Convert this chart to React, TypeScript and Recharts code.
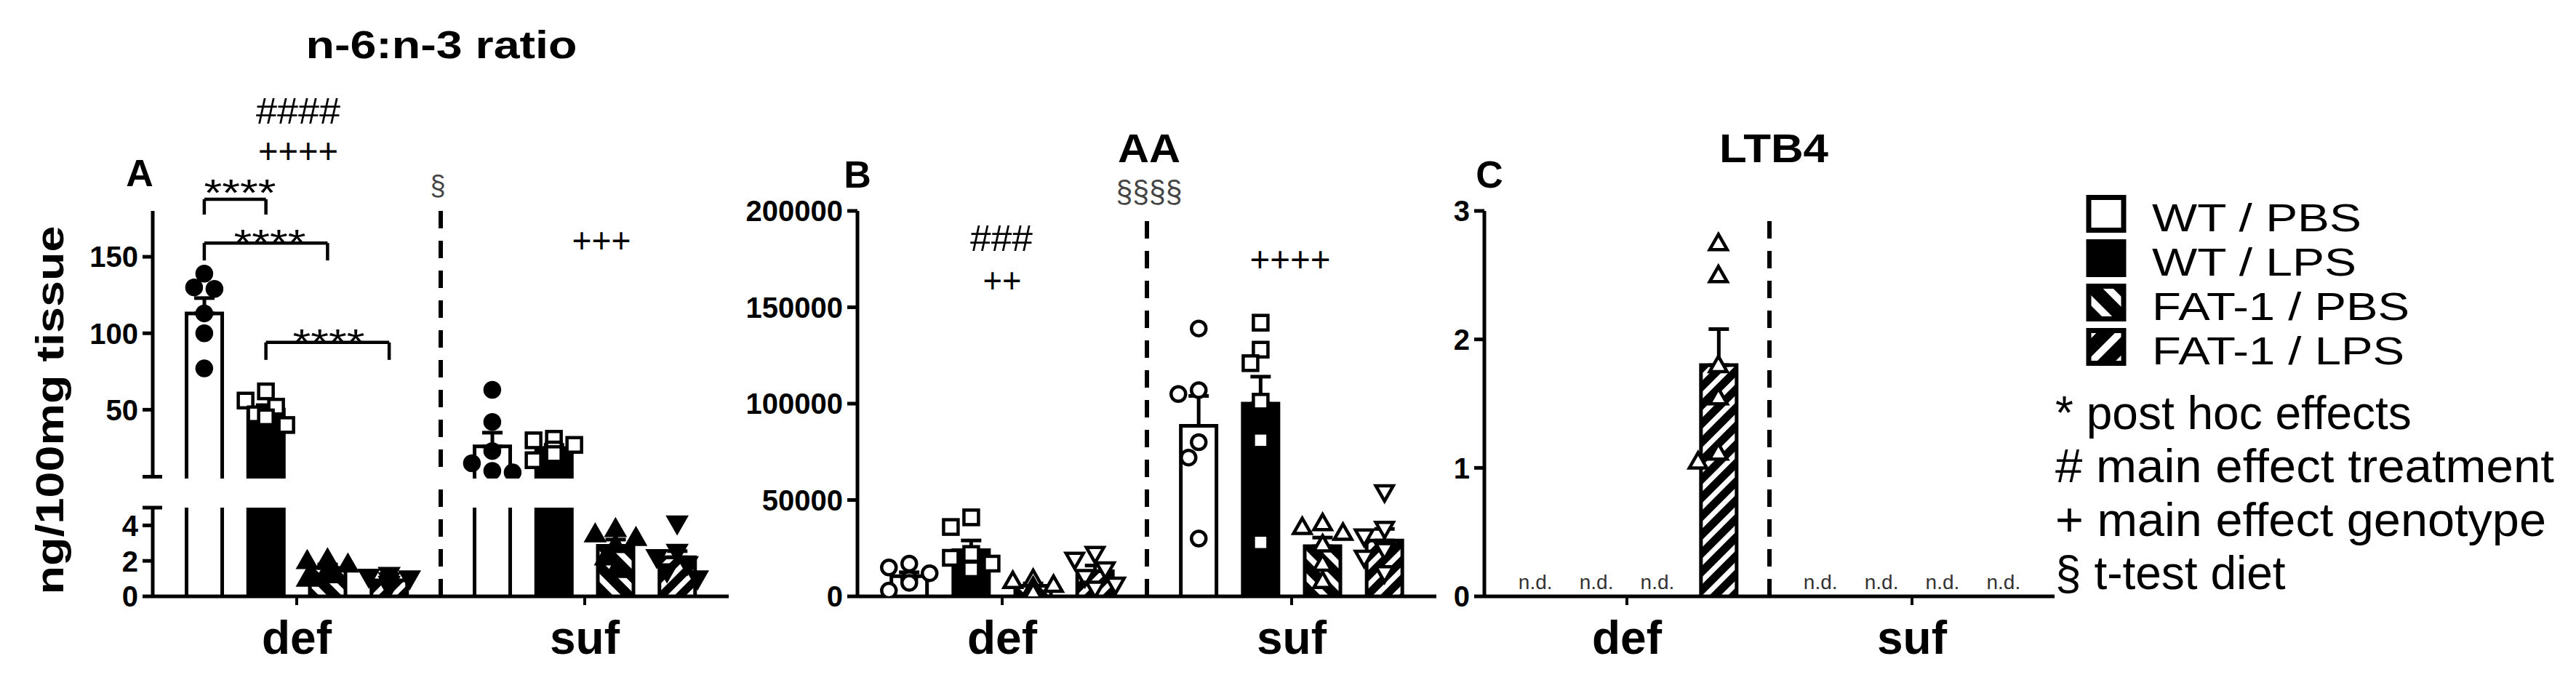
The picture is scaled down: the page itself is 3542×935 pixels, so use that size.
import React from 'react';
import { Bar, ComposedChart, ErrorBar, ReferenceLine, Scatter, XAxis, YAxis } from 'recharts';

const FONT = '"Liberation Sans", Arial, Helvetica, sans-serif';

// categories
const DIETS = ['def', 'suf'];
const GROUPS = ['WT / PBS', 'WT / LPS', 'FAT-1 / PBS', 'FAT-1 / LPS'];

// order of every list below: def WT/PBS, WT/LPS, FAT-1/PBS, FAT-1/LPS, then the same for suf
const RATIO_MEAN = [113, 50, 1.6, 0.9, 26, 25, 2.85, 2.2];
const RATIO_SEM = [10, 3, 0.2, 0.1, 9, 2, 0.35, 0.35];
const RATIO_POINTS = [
  [139, 130, 129, 113, 100, 77],
  [62, 56, 52, 47, 45, 40],
  [2.1, 2.0, 1.8, 1.5, 1.2, 1.0],
  [1.2, 1.1, 1.0, 0.9, 0.7, 0.5],
  [63, 42, 23, 15, 10, 9],
  [31, 30, 27, 24, 21, 17],
  [3.8, 3.5, 3.3, 2.9, 2.2, 1.5],
  [4.1, 2.5, 2.2, 1.8, 1.4, 1.0],
];

const AA_MEAN = [10500, 24000, 5500, 13000, 88500, 100000, 26000, 29000];
const AA_SEM = [2000, 5000, 1200, 3000, 15500, 14000, 4500, 6000];
const AA_POINTS = [
  [17000, 15000, 12000, 9000, 7000, 3000],
  [41000, 36000, 22000, 20000, 17000, 14000],
  [9000, 8000, 6000, 5000, 3000, 2000],
  [22000, 19000, 14000, 10000, 6000, 4000],
  [139000, 107000, 105000, 80000, 72000, 30000],
  [142000, 128000, 121000, 101000, 81000, 28000],
  [38000, 36000, 33000, 27000, 17000, 8000],
  [54000, 35000, 31000, 24000, 20000, 12000],
];

// null = n.d.
const LTB4_MEAN = [null, null, null, 1.8, null, null, null, null];
const LTB4_SEM = [0, 0, 0, 0.28, 0, 0, 0, 0];
const LTB4_POINTS = [[], [], [], [2.75, 2.5, 1.8, 1.55, 1.12, 1.05], [], [], [], []];

// post hoc brackets on the ratio panel: bar index from/to, height of the bracket, leg drop
const RATIO_BRACKETS = [
  { from: 0, to: 1, y: 187.6, drop: 10, stars: '****' },
  { from: 0, to: 2, y: 159, drop: 11.4, stars: '****' },
  { from: 1, to: 3, y: 94, drop: 11.4, stars: '****' },
];

const LEGEND_LEN = [288, 281, 354, 347];

// layout
const SLOT = 0.214; // distance between neighbouring bars, in diet units
const PLOT_TOP = 290;
const BASE = 820;
const BREAK_HI = 658;
const BREAK_LO = 698;

const barX = (i: number) => Math.floor(i / 4) + 0.5 + ((i % 4) - 1.5) * SLOT;

const FILLS = ['#fff', '#000', 'url(#hatchPbs)', 'url(#hatchLps)'];

function barRows(mean: (number | null)[], sem: number[]) {
  return mean
    .map((m, i) => ({ x: barX(i), mean: m, err: [0, sem[i]], group: i % 4 }))
    .filter((r) => r.mean != null);
}

// simple beeswarm so the dots of one bar do not sit on top of each other
function swarm(values: number[], toPx: (v: number) => number, d = 22, step = 14) {
  const placed: { dx: number; py: number }[] = [];
  return values.map((v) => {
    const py = toPx(v);
    for (const k of [0, -1, 1, -2, 2]) {
      const dx = k * step;
      if (placed.every((p) => Math.hypot(p.dx - dx, p.py - py) >= d)) {
        placed.push({ dx, py });
        return dx;
      }
    }
    placed.push({ dx: 0, py });
    return 0;
  });
}

function pointSets(points: number[][], toPx: (v: number) => number, unitPx: number) {
  return GROUPS.map((_, g) =>
    DIETS.flatMap((__, d) => {
      const i = d * 4 + g;
      const offs = swarm(points[i], toPx);
      return points[i].map((v, k) => ({ x: barX(i) + offs[k] / unitPx, y: v }));
    })
  );
}

const ratioPx = (v: number) =>
  v >= 5 ? BREAK_HI - ((v - 5) * (BREAK_HI - PLOT_TOP)) / 175 : BASE - (v * (BASE - BREAK_LO)) / 5;
const RATIO_SETS = pointSets(RATIO_POINTS, ratioPx, 396);
const RATIO_HI = RATIO_SETS.map((s) => s.filter((p) => p.y >= 5));
const RATIO_LO = RATIO_SETS.map((s) => s.filter((p) => p.y < 5));
const AA_SETS = pointSets(AA_POINTS, (v) => BASE - (v * (BASE - PLOT_TOP)) / 200000, 398);
const LTB4_SETS = pointSets(LTB4_POINTS, (v) => BASE - (v * (BASE - PLOT_TOP)) / 3, 392);
const LTB4_ND = LTB4_MEAN.map((m, i) => ({ x: barX(i), y: 0, nd: m == null })).filter((r) => r.nd);

type MarkKind = 'circle' | 'square' | 'up' | 'down';

const mark = (kind: MarkKind, fill: string) => (p: any) => {
  const { cx, cy } = p;
  if (cx == null || cy == null) return <g />;
  const sw = 4.5;
  if (kind === 'circle') return <circle cx={cx} cy={cy} r={10} fill={fill} stroke="#000" strokeWidth={sw} />;
  if (kind === 'square')
    return <rect x={cx - 10} y={cy - 10} width={20} height={20} fill={fill} stroke="#000" strokeWidth={sw} />;
  const s = kind === 'up' ? 1 : -1;
  return (
    <polygon
      points={`${cx},${cy - 12 * s} ${cx + 12},${cy + 9 * s} ${cx - 12},${cy + 9 * s}`}
      fill={fill}
      stroke="#000"
      strokeWidth={sw}
    />
  );
};

const RATIO_MARKS = [mark('circle', '#000'), mark('square', '#fff'), mark('up', '#000'), mark('down', '#000')];
const OPEN_MARKS = [mark('circle', '#fff'), mark('square', '#fff'), mark('up', '#fff'), mark('down', '#fff')];
const LTB4_MARKS = [mark('circle', '#fff'), mark('square', '#fff'), mark('up', '#fff'), mark('up', '#fff')];

const ndMark = (p: any) => (
  <text x={p.cx} y={p.cy - 10} textAnchor="middle" fontFamily={FONT} fontSize={28} fill="#333">
    n.d.
  </text>
);

// bars are drawn open at the bottom so the axis break stays clean
const barShape = (floor: number) => (p: any) => {
  const { x, y, width, height, payload } = p;
  if (payload == null || payload.mean == null || payload.mean <= floor) return <g />;
  const top = Math.min(y, y + height);
  const bottom = Math.max(y, y + height);
  return (
    <g>
      <rect x={x} y={top} width={width} height={bottom - top} fill={FILLS[payload.group]} />
      <path d={`M${x},${bottom}V${top}H${x + width}V${bottom}`} fill="none" stroke="#000" strokeWidth={5} />
    </g>
  );
};

const TICK = 14;
const TICK_GAP = 6;

// tick line + label; the break value gets a short mark across the axis instead of a label
const YTick = (p: any) => {
  const { x, y, payload, breakAt, breakShift = 0 } = p;
  const ax = x + TICK + TICK_GAP;
  if (breakAt != null && payload.value === breakAt)
    return <line x1={ax - TICK} x2={ax + 13} y1={y + breakShift} y2={y + breakShift} stroke="#000" strokeWidth={5} />;
  return (
    <g>
      <line x1={ax - TICK} x2={ax} y1={y} y2={y} stroke="#000" strokeWidth={5} />
      <text x={x} y={y} dy="0.36em" textAnchor="end" fontFamily={FONT} fontSize={40} fontWeight={700} fill="#000">
        {payload.value}
      </text>
    </g>
  );
};

const axisLine = { stroke: '#000', strokeWidth: 5 };

function yAxis(domain: number[], ticks: number[], width: number, breakAt?: number, breakShift = 0) {
  return (
    <YAxis
      type="number"
      domain={domain}
      ticks={ticks}
      interval={0}
      allowDataOverflow
      width={width}
      axisLine={axisLine}
      tickLine={false}
      tickSize={TICK}
      tickMargin={TICK_GAP}
      tick={(p: any) => <YTick {...p} breakAt={breakAt} breakShift={breakShift} />}
    />
  );
}

// "b" carries the bars and the def/suf ticks, "p" the individual animals
function xAxes(hide = false) {
  return [
    <XAxis
      key="b"
      xAxisId="b"
      type="number"
      dataKey="x"
      domain={[0, 2]}
      ticks={[0.5, 1.5]}
      interval={0}
      allowDataOverflow
      hide={hide}
      height={110}
      tickFormatter={(v: number) => DIETS[Math.floor(v)]}
      axisLine={axisLine}
      tickLine={{ stroke: '#000', strokeWidth: 4 }}
      tickSize={12}
      tickMargin={22}
      tick={{ fill: '#000', fontSize: 64, fontWeight: 700, fontFamily: FONT }}
    />,
    <XAxis key="p" xAxisId="p" type="number" dataKey="x" domain={[0, 2]} allowDataOverflow hide />,
  ];
}

function bars(floor: number) {
  return (
    <Bar xAxisId="b" dataKey="mean" barSize={49} shape={barShape(floor)} isAnimationActive={false}>
      <ErrorBar dataKey="err" width={14} strokeWidth={5} stroke="#000" />
    </Bar>
  );
}

function dots(sets: any[][], marks: any[]) {
  return sets.map((s, g) => (
    <Scatter key={g} xAxisId="p" data={s} dataKey="y" shape={marks[g]} isAnimationActive={false} />
  ));
}

const dash = { stroke: '#000', strokeWidth: 6, strokeDasharray: '24 17' };

function Abs({ left, top, children }: { left: number; top: number; children: React.ReactNode }) {
  return <div style={{ position: 'absolute', left, top }}>{children}</div>;
}

const RATIO_ROWS = barRows(RATIO_MEAN, RATIO_SEM);
const AA_ROWS = barRows(AA_MEAN, AA_SEM);
const LTB4_ROWS = barRows(LTB4_MEAN, LTB4_SEM);

function T(props: {
  x: number;
  y: number;
  size: number;
  bold?: boolean;
  len?: number;
  anchor?: 'start' | 'middle' | 'end';
  fill?: string;
  children: React.ReactNode;
}) {
  const { x, y, size, bold, len, anchor = 'middle', fill = '#000', children } = props;
  return (
    <text
      x={x}
      y={y}
      fontSize={size}
      fontWeight={bold ? 700 : 400}
      fontFamily={FONT}
      textAnchor={anchor}
      fill={fill}
      textLength={len}
      lengthAdjust={len ? 'spacingAndGlyphs' : undefined}
    >
      {children}
    </text>
  );
}

export default function App() {
  const legendY = [268, 329, 390, 451];
  return (
    <div style={{ position: 'absolute', left: 0, top: 0, width: 3542, height: 935, background: '#fff', overflow: 'hidden' }}>
      {/* A, upper part of the broken axis */}
      <Abs left={60} top={200}>
        <ComposedChart width={962} height={458} data={RATIO_ROWS} margin={{ top: 90, right: 20, bottom: 0, left: 0 }}>
          {xAxes(true)}
          {yAxis([5, 180], [5, 50, 100, 150], 150, 5, -2.5)}
          {bars(5)}
          {dots(RATIO_HI, RATIO_MARKS)}
          <ReferenceLine xAxisId="b" segment={[{ x: 1, y: 180 }, { x: 1, y: 5 }]} {...dash} ifOverflow="visible" />
          {RATIO_BRACKETS.map((b, k) => {
            const a = barX(b.from);
            const c = barX(b.to);
            const line = { xAxisId: 'b', stroke: '#000', strokeWidth: 4.5, ifOverflow: 'visible' as const };
            return (
              <React.Fragment key={k}>
                <ReferenceLine {...line} segment={[{ x: a, y: b.y }, { x: c, y: b.y }]} />
                <ReferenceLine {...line} segment={[{ x: a, y: b.y }, { x: a, y: b.y - b.drop }]} />
                <ReferenceLine {...line} segment={[{ x: c, y: b.y }, { x: c, y: b.y - b.drop }]} />
              </React.Fragment>
            );
          })}
        </ComposedChart>
      </Abs>

      {/* A, lower part */}
      <Abs left={60} top={658}>
        <ComposedChart width={962} height={272} data={RATIO_ROWS} margin={{ top: 40, right: 20, bottom: 0, left: 0 }}>
          {xAxes()}
          {yAxis([0, 5], [0, 2, 4, 5], 150, 5)}
          {bars(-1)}
          {dots(RATIO_LO, RATIO_MARKS)}
          <ReferenceLine xAxisId="b" segment={[{ x: 1, y: 0 }, { x: 1, y: 6.6 }]} {...dash} ifOverflow="visible" />
        </ComposedChart>
      </Abs>

      {/* B, AA */}
      <Abs left={979} top={200}>
        <ComposedChart width={1016} height={730} data={AA_ROWS} margin={{ top: 90, right: 20, bottom: 0, left: 0 }}>
          {xAxes()}
          {yAxis([0, 200000], [0, 50000, 100000, 150000, 200000], 200)}
          {bars(-1)}
          {dots(AA_SETS, OPEN_MARKS)}
          <ReferenceLine xAxisId="b" x={1} {...dash} />
        </ComposedChart>
      </Abs>

      {/* C, LTB4 */}
      <Abs left={1941} top={200}>
        <ComposedChart width={894} height={730} data={LTB4_ROWS} margin={{ top: 90, right: 10, bottom: 0, left: 0 }}>
          {xAxes()}
          {yAxis([0, 3], [0, 1, 2, 3], 100)}
          {bars(-1)}
          {dots(LTB4_SETS, LTB4_MARKS)}
          <Scatter xAxisId="p" data={LTB4_ND} dataKey="y" shape={ndMark} isAnimationActive={false} />
          <ReferenceLine xAxisId="b" x={1} {...dash} />
        </ComposedChart>
      </Abs>

      <svg width={3542} height={935} style={{ position: 'absolute', left: 0, top: 0, pointerEvents: 'none' }}>
        <defs>
          <pattern id="hatchPbs" patternUnits="userSpaceOnUse" width={22} height={22} patternTransform="rotate(-45)">
            <rect width={22} height={22} fill="#000" />
            <rect width={8} height={22} fill="#fff" />
          </pattern>
          <pattern id="hatchLps" patternUnits="userSpaceOnUse" width={18} height={18} patternTransform="rotate(45)">
            <rect width={18} height={18} fill="#000" />
            <rect width={7} height={18} fill="#fff" />
          </pattern>
          <pattern id="legPbs" patternUnits="userSpaceOnUse" width={28} height={28} patternTransform="rotate(-45)">
            <rect width={28} height={28} fill="#000" />
            <rect width={10} height={28} fill="#fff" />
          </pattern>
          <pattern id="legLps" patternUnits="userSpaceOnUse" width={28} height={28} patternTransform="rotate(45)">
            <rect width={28} height={28} fill="#000" />
            <rect width={10} height={28} fill="#fff" />
          </pattern>
        </defs>

        {/* titles and panel letters */}
        <T x={607} y={80} size={54} bold len={373}>n-6:n-3 ratio</T>
        <T x={1580} y={223} size={56} bold len={86}>AA</T>
        <T x={2439} y={223} size={56} bold len={150}>LTB4</T>
        <T x={192} y={256} size={52} bold>A</T>
        <T x={1179} y={258} size={52} bold>B</T>
        <T x={2048} y={258} size={52} bold>C</T>

        <text
          x={68}
          y={564}
          transform="rotate(-90 68 564)"
          fontSize={54}
          fontWeight={700}
          fontFamily={FONT}
          textAnchor="middle"
          dominantBaseline="central"
          textLength={507}
          lengthAdjust="spacingAndGlyphs"
        >
          ng/100mg tissue
        </text>

        {/* significance marks */}
        <T x={410} y={170} size={50} len={116}>####</T>
        <T x={410} y={224} size={48} len={110}>++++</T>
        <T x={330} y={283} size={52} len={99}>{RATIO_BRACKETS[0].stars}</T>
        <T x={371} y={352} size={52} len={99}>{RATIO_BRACKETS[1].stars}</T>
        <T x={452} y={489} size={52} len={99}>{RATIO_BRACKETS[2].stars}</T>
        <T x={602} y={268} size={38} fill="#444">§</T>
        <T x={827} y={347} size={48} len={81}>+++</T>
        <T x={1580} y={278} size={42} len={91} fill="#444">§§§§</T>
        <T x={1377} y={345} size={50} len={86}>###</T>
        <T x={1378} y={402} size={48} len={53}>++</T>
        <T x={1774} y={373} size={48} len={111}>++++</T>

        {/* legend */}
        {GROUPS.map((g, i) => (
          <g key={g}>
            <rect
              x={2872}
              y={legendY[i] + 3.5}
              width={48}
              height={45}
              fill={['#fff', '#000', 'url(#legPbs)', 'url(#legLps)'][i]}
              stroke="#000"
              strokeWidth={7}
            />
            <T x={2959} y={legendY[i] + 50} size={54} len={LEGEND_LEN[i]} anchor="start">{g}</T>
          </g>
        ))}
        <T x={2826} y={590} size={64} anchor="start">* post hoc effects</T>
        <T x={2826} y={663} size={64} len={686} anchor="start">
          # main effect treatment
        </T>
        <T x={2826} y={737} size={64} len={675} anchor="start">
          + main effect genotype
        </T>
        <T x={2826} y={810} size={64} anchor="start">§ t-test diet</T>
      </svg>
    </div>
  );
}
